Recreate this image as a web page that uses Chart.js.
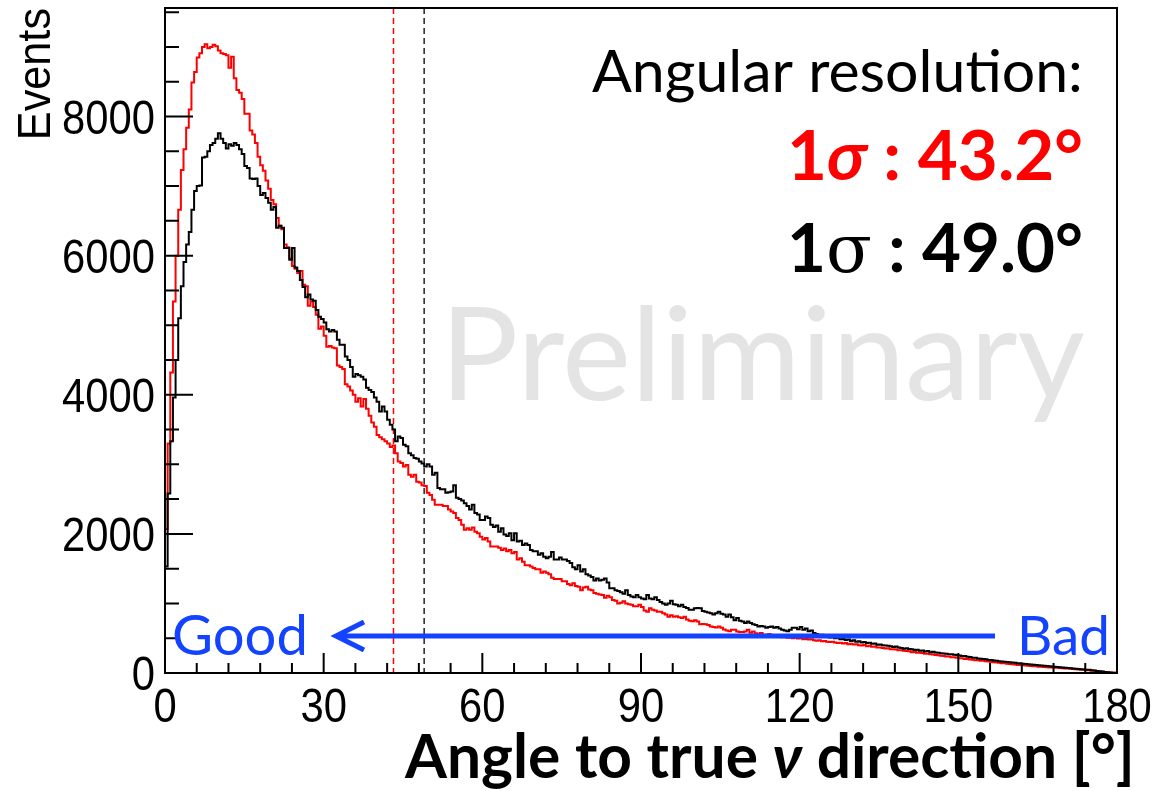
<!DOCTYPE html>
<html>
<head>
<meta charset="utf-8">
<title>Angular resolution</title>
<script src="https://cdn.jsdelivr.net/npm/chart.js@4.4.1/dist/chart.umd.min.js"></script>
<style>
  html, body { margin: 0; padding: 0; background: #fff; }
  canvas { display: block; }
</style>
</head>
<body>
<canvas id="angleChart" width="1155" height="791"></canvas>
<script>
/* Histogramas: eventos por bin de 0.5 grados */
const binWidth = 0.5;
const xMin = 0;
const xMax = 180;
const yMax = 9560;

const xTickLabels = [0, 30, 60, 90, 120, 150, 180];
const yTickLabels = [0, 2000, 4000, 6000, 8000];

// nueva reconstruccion (rojo)
const redCounts = [
  660, 2070, 3300, 4320, 5340, 6000, 6660, 7230, 7530, 7840, 8100, 8490, 8640, 8850, 8910, 9000, 9040, 8980, 9000, 9030,
  9010, 8950, 8910, 8900, 8880, 8700, 8860, 8550, 8380, 8340, 8250, 8040, 8040, 7800, 7740, 7620, 7420, 7300, 7220, 7080,
  6960, 6800, 6740, 6540, 6430, 6380, 6160, 6120, 5960, 5850, 5810, 5750, 5780, 5580, 5560, 5280, 5340, 5260, 5150, 4950,
  4980, 4850, 4690, 4700, 4680, 4670, 4420, 4400, 4370, 4150, 4120, 4060, 4000, 3900, 3950, 3830, 3940, 3800, 3700, 3600,
  3540, 3420, 3390, 3360, 3330, 3300, 3250, 3270, 3160, 3040, 3020, 2970, 2990, 2850, 2820, 2850, 2750, 2740, 2700, 2690,
  2590, 2560, 2490, 2420, 2420, 2420, 2400, 2400, 2350, 2320, 2300, 2230, 2200, 2130, 2060, 2080, 2060, 2090, 2030, 2010,
  1960, 1920, 1940, 1890, 1820, 1820, 1820, 1800, 1770, 1790, 1750, 1770, 1720, 1740, 1630, 1650, 1600, 1550, 1550, 1530,
  1510, 1490, 1490, 1440, 1460, 1440, 1420, 1370, 1350, 1350, 1350, 1320, 1320, 1280, 1260, 1290, 1250, 1240, 1190, 1230,
  1240, 1200, 1190, 1150, 1140, 1130, 1120, 1080, 1110, 1090, 1050, 1040, 1000, 1010, 1030, 1000, 990, 980, 960, 960,
  980, 950, 900, 880, 930, 910, 900, 880, 880, 860, 840, 810, 830, 810, 815, 800, 790, 810, 770, 750,
  745, 760, 740, 700, 705, 700, 690, 670, 660, 655, 670, 650, 625, 610, 600, 620, 620, 595, 590, 590,
  595, 620, 580, 595, 570, 565, 575, 550, 550, 560, 535, 540, 525, 530, 515, 525, 505, 510, 500, 510,
  495, 500, 485, 490, 480, 485, 470, 465, 470, 455, 460, 450, 445, 450, 440, 430, 435, 425, 430, 415,
  420, 410, 412, 400, 395, 402, 385, 390, 378, 380, 368, 365, 360, 352, 355, 342, 340, 338, 326, 328,
  320, 315, 312, 300, 302, 292, 290, 286, 276, 278, 268, 266, 258, 256, 248, 246, 238, 236, 228, 226,
  220, 212, 212, 202, 200, 194, 192, 184, 184, 176, 175, 168, 166, 158, 156, 150, 147, 140, 139, 132,
  130, 124, 123, 116, 116, 110, 109, 103, 102, 97, 96, 90, 91, 86, 84, 80, 80, 76, 75, 71,
  70, 66, 64, 60, 58, 54, 52, 47, 45, 41, 40, 34, 31, 26, 23, 18, 15, 10, 7, 3
];

// reconstruccion actual (negro)
const blackCounts = [
  640, 1530, 2580, 3330, 3960, 4500, 5100, 5560, 5910, 6160, 6340, 6660, 6930, 7000, 7010, 7410, 7420, 7500, 7590, 7620,
  7680, 7760, 7680, 7620, 7540, 7600, 7580, 7620, 7590, 7530, 7460, 7290, 7260, 7110, 7100, 7110, 7000, 6870, 6900, 6830,
  6760, 6660, 6700, 6400, 6430, 6400, 6110, 6110, 5940, 6110, 5830, 5780, 5650, 5550, 5400, 5440, 5370, 5350, 5220, 5120,
  5090, 5040, 4940, 4910, 4930, 4910, 4790, 4720, 4720, 4550, 4500, 4400, 4260, 4300, 4280, 4260, 4220, 4100, 4070, 4040,
  3960, 3900, 3760, 3830, 3760, 3640, 3570, 3500, 3330, 3400, 3380, 3280, 3260, 3160, 3130, 3090, 3080, 3040, 3010, 2970,
  3000, 2970, 2850, 2880, 2660, 2640, 2640, 2590, 2600, 2610, 2700, 2520, 2500, 2480, 2440, 2400, 2350, 2420, 2300, 2280,
  2200, 2200, 2250, 2230, 2130, 2100, 2120, 2030, 2080, 1990, 1970, 2010, 1910, 2010, 1890, 1900, 1840, 1860, 1840, 1770,
  1750, 1750, 1700, 1720, 1670, 1650, 1670, 1740, 1630, 1630, 1660, 1630, 1630, 1610, 1580, 1520, 1490, 1550, 1460, 1490,
  1420, 1400, 1380, 1330, 1360, 1330, 1340, 1360, 1300, 1220, 1220, 1190, 1180, 1160, 1140, 1190, 1120, 1100, 1090, 1120,
  1090, 1070, 1060, 1120, 1070, 1060, 1090, 1050, 1020, 1000, 980, 1000, 1040, 990, 980, 960, 980, 950, 935, 910,
  910, 930, 935, 930, 890, 880, 870, 860, 840, 860, 880, 850, 840, 810, 840, 800, 760, 790, 750, 740,
  720, 740, 720, 700, 690, 670, 675, 670, 650, 660, 670, 650, 660, 640, 620, 610, 600, 620, 650, 650,
  630, 660, 620, 640, 600, 610, 575, 560, 545, 550, 525, 530, 510, 515, 500, 505, 485, 490, 475, 480,
  460, 470, 450, 455, 440, 445, 430, 435, 420, 425, 405, 410, 400, 395, 390, 385, 375, 380, 365, 360,
  350, 355, 345, 340, 330, 335, 320, 325, 310, 315, 300, 305, 295, 290, 285, 280, 275, 270, 268, 262,
  258, 252, 246, 244, 232, 230, 220, 218, 208, 206, 200, 196, 188, 186, 180, 176, 170, 166, 160, 158,
  155, 150, 148, 141, 140, 133, 131, 125, 123, 117, 116, 111, 109, 103, 101, 96, 95, 89, 87, 83,
  80, 76, 72, 69, 65, 62, 58, 55, 51, 48, 45, 40, 35, 30, 25, 20, 16, 11, 7, 3
];

// resolucion angular (1 sigma) de cada version
const sigmaRed = 43.2;
const sigmaBlack = 49.0;

const xMinorStep = 6;
const yMinorStep = 500;

const sansFont = '"Liberation Sans", Arial, sans-serif';
const textFont = 'Lato, "Open Sans", sans-serif';
const blue = '#1443ff';

/* convierte los bins en puntos para una linea escalonada */
function toSteps(counts) {
  let points = counts.map((c, i) => ({ x: xMin + i * binWidth, y: c }));
  points.push({ x: xMax, y: counts[counts.length - 1] });
  return points;
}

/* texto en varias piezas (negrita, cursiva...) ajustado a un ancho */
function partFont(part, size) {
  return (part.italic ? 'italic ' : '') + (part.weight || 'normal') + ' ' + size + 'px ' + (part.family || textFont);
}
function drawFitted(ctx, parts, width, xRight, baseline, color) {
  let base = 0;
  parts.forEach(p => { ctx.font = partFont(p, 100); base += ctx.measureText(p.text).width; });
  const size = 100 * width / base;
  let x = xRight - width;
  ctx.fillStyle = color;
  ctx.textAlign = 'left';
  ctx.textBaseline = 'alphabetic';
  parts.forEach(p => {
    ctx.font = partFont(p, size);
    ctx.fillText(p.text, x, baseline);
    x += ctx.measureText(p.text).width;
  });
}

/* etiquetas numericas estilo ROOT: un poco estrechas */
function drawNumber(ctx, text, x, y, align) {
  ctx.save();
  ctx.translate(x, y);
  ctx.scale(0.87, 1);
  ctx.font = '48px ' + sansFont;
  ctx.fillStyle = '#000';
  ctx.textAlign = align;
  ctx.textBaseline = 'alphabetic';
  ctx.fillText(text, 0, 0);
  ctx.restore();
}

const fondo = {
  id: 'fondo',
  beforeDatasetsDraw(chart) {
    const { ctx, scales: { x, y }, chartArea: a } = chart;
    ctx.save();
    // marca de agua
    drawFitted(ctx, [{ text: 'Preliminary' }], 645, 1085, 400, '#e4e4e4');

    // lineas verticales de 1 sigma
    ctx.setLineDash([6, 4]);
    ctx.lineWidth = 1.5;
    ctx.strokeStyle = '#ff0000';
    let px = x.getPixelForValue(sigmaRed);
    ctx.beginPath(); ctx.moveTo(px, a.top); ctx.lineTo(px, a.bottom); ctx.stroke();
    ctx.strokeStyle = '#222';
    px = x.getPixelForValue(sigmaBlack);
    ctx.beginPath(); ctx.moveTo(px, a.top); ctx.lineTo(px, a.bottom); ctx.stroke();
    ctx.restore();
  }
};

const marco = {
  id: 'marco',
  afterDraw(chart) {
    const { ctx, scales: { x, y }, chartArea: a } = chart;
    ctx.save();
    ctx.strokeStyle = '#000';
    ctx.lineWidth = 2;
    // ticks hacia dentro, mayores y menores
    ctx.beginPath();
    for (let v = xMin; v <= xMax; v += xMinorStep) {
      const px = x.getPixelForValue(v);
      const len = xTickLabels.includes(v) ? 20 : 10;
      ctx.moveTo(px, a.bottom); ctx.lineTo(px, a.bottom - len);
    }
    for (let v = 0; v <= yMax; v += yMinorStep) {
      const py = y.getPixelForValue(v);
      const len = yTickLabels.includes(v) ? 28 : 14;
      ctx.moveTo(a.left, py); ctx.lineTo(a.left + len, py);
    }
    ctx.stroke();
    ctx.strokeRect(a.left, a.top, a.right - a.left, a.bottom - a.top);

    // etiquetas de los ejes
    xTickLabels.forEach(v => drawNumber(ctx, String(v), x.getPixelForValue(v), a.bottom + 49, 'center'));
    yTickLabels.forEach(v => drawNumber(ctx, String(v), a.left - 10, y.getPixelForValue(v) + 17, 'right'));

    // titulo eje Y
    ctx.save();
    ctx.translate(50, 8);
    ctx.rotate(-Math.PI / 2);
    ctx.scale(0.92, 1);
    ctx.font = '47px ' + sansFont;
    ctx.fillStyle = '#000';
    ctx.textAlign = 'right';
    ctx.textBaseline = 'alphabetic';
    ctx.fillText('Events', 0, 0);
    ctx.restore();

    // titulo eje X
    drawFitted(ctx, [
      { text: 'Angle to true ', weight: 'bold' },
      { text: 'ν', weight: 'bold', italic: true },
      { text: ' direction [°]', weight: 'bold' }
    ], 730, 1135, 778, '#000');

    // resultados
    drawFitted(ctx, [{ text: 'Angular resolution:' }], 491, 1083, 92, '#000');
    drawFitted(ctx, [
      { text: '1', weight: 'bold' },
      { text: 'σ', weight: 'bold', italic: true },
      { text: ' : ' + sigmaRed.toFixed(1) + '°', weight: 'bold' }
    ], 296, 1083, 180, '#ff0000');
    drawFitted(ctx, [
      { text: '1', weight: 'bold' },
      { text: 'σ', family: '"DejaVu Serif", serif' },
      { text: ' : ' + sigmaBlack.toFixed(1) + '°', weight: 'bold' }
    ], 296, 1083, 272, '#000');

    // flecha Good <- Bad
    drawFitted(ctx, [{ text: 'Good' }], 136, 308, 655, blue);
    drawFitted(ctx, [{ text: 'Bad' }], 93, 1110, 655, blue);
    ctx.strokeStyle = blue;
    ctx.lineWidth = 5;
    ctx.lineCap = 'butt';
    ctx.beginPath();
    ctx.moveTo(995, 636); ctx.lineTo(336, 636);
    ctx.moveTo(364, 622); ctx.lineTo(336, 636); ctx.lineTo(364, 650);
    ctx.stroke();
    ctx.restore();
  }
};

const ctx = document.getElementById('angleChart').getContext('2d');

const miGrafico = new Chart(ctx, {
  type: 'line',
  data: {
    datasets: [
      {
        label: 'negro',
        data: toSteps(blackCounts),
        borderColor: '#000',
        borderWidth: 2,
        stepped: 'after',
        pointRadius: 0,
        fill: false
      },
      {
        label: 'rojo',
        data: toSteps(redCounts),
        borderColor: '#ff0000',
        borderWidth: 2,
        stepped: 'after',
        pointRadius: 0,
        fill: false
      }
    ]
  },
  options: {
    responsive: false,
    animation: false,
    layout: { padding: { top: 8, right: 38, left: 0, bottom: 0 } },
    plugins: {
      legend: { display: false },
      tooltip: { enabled: false }
    },
    scales: {
      x: {
        type: 'linear',
        min: xMin,
        max: xMax,
        grid: { display: false, drawTicks: false },
        border: { display: false },
        ticks: { display: false },
        afterFit: s => { s.height = 118; }
      },
      y: {
        min: 0,
        max: yMax,
        grid: { display: false, drawTicks: false },
        border: { display: false },
        ticks: { display: false },
        afterFit: s => { s.width = 165; }
      }
    }
  },
  plugins: [fondo, marco]
});
</script>
</body>
</html>
